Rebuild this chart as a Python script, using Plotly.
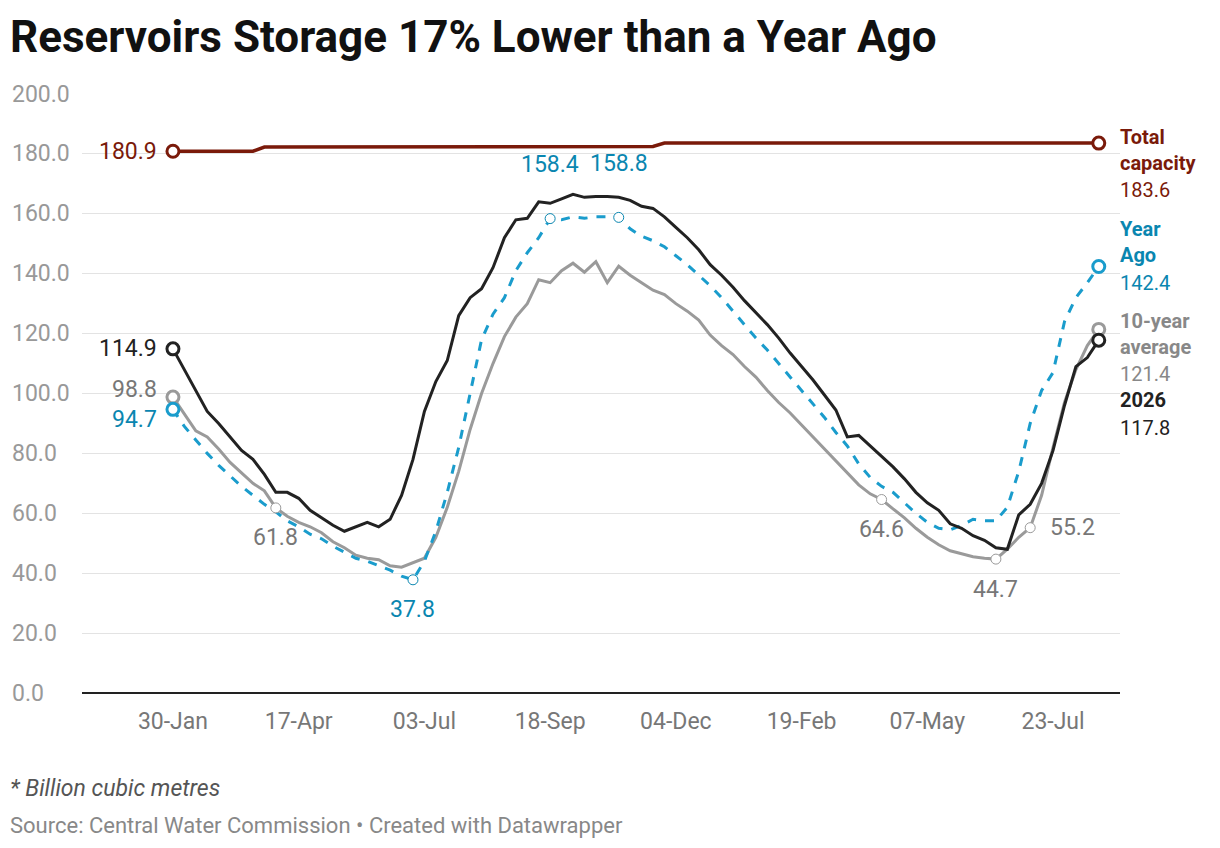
import plotly.graph_objects as go
import pandas as pd

start = pd.Timestamp("2025-01-30")
weeks = list(range(82))
dates = [start + pd.Timedelta(days=7*w) for w in weeks]
ytick_vals = [0, 20, 40, 60, 80, 100, 120, 140, 160, 180, 200]

current = [114.9,108,101,94,90,85.5,81,78,73,67,67,65,61,58.5,56,54,55.5,57,55.5,58,66,78,94,104,111,126,132,135,142,152,158,158.5,164,163.5,165,166.5,165.5,165.8,165.8,165.5,164.5,162.5,161.8,159,155.5,152,148,143,139.5,135.5,131,127,123,118.5,113.5,109,104.5,99.5,94.5,85.5,86,82.5,79,75.5,71.5,67,63.5,61,56.5,55,52.5,51,48.5,48,59.5,63,70,81,96,109,112,117.8]
avg10 = [98.8,93,87.5,85.5,81.5,77,73.5,70,67.5,61.8,59,57,55.5,53.5,50.5,48.5,46,45,44.5,42.5,42,43.5,45,52,62,74,88,100,110,119,125.5,130,138,137,141,143.5,140.5,144,137,142.5,139.5,137,134.5,133,130,127.5,124.5,119.5,116,113,109,105.5,101,97,93.5,89.5,85.5,81.5,77.5,73.5,69.5,66.5,64.6,61.5,58.5,55,52,49.5,47.5,46.5,45.5,45,44.7,48,52,55.2,66,82,97,108,116,121.4]
yearago = [94.7,89,84.5,80,76,72.5,69,66,63,60.5,57.5,55.5,53,51.5,49,47,45,44,42.5,41,39,37.8,44,54,67,82,100,118,126.5,132,141,147,152,158.4,158,159,158.5,159,159,158.8,155,152.5,151,149,146,143,139.5,136,132,127.5,123,118.5,114.5,110,105.5,101,96.5,92,87,82.5,76.5,72,69,67,63.5,60,57,55,54.5,56,58,57.5,57.5,62,74,90,101,107,124,132,137,142.4]
capacity = [180.9]*8 + [182.3]*15 + [182.5]*20 + [183.6]*39

RED = "#7a1a0a"; BLUE = "#1a9ccc"; BLUEL = "#0a86b0"; GRAY = "#9a9a9a"; DARK = "#222222"
fig = go.Figure()
fig.add_trace(go.Scatter(x=dates, y=capacity, mode="lines", line=dict(color=RED, width=3.5)))
fig.add_trace(go.Scatter(x=dates, y=avg10, mode="lines", line=dict(color=GRAY, width=3)))
fig.add_trace(go.Scatter(x=dates, y=yearago, mode="lines", line=dict(color=BLUE, width=3, dash="dash")))
fig.add_trace(go.Scatter(x=dates, y=current, mode="lines", line=dict(color=DARK, width=3)))

def marker(idx, series, color, size=12, w=3):
    fig.add_trace(go.Scatter(x=[dates[i] for i in idx], y=[series[i] for i in idx], mode="markers",
        marker=dict(size=size, color="white", line=dict(color=color, width=w))))
marker([0, 81], capacity, RED)
marker([0, 81], avg10, GRAY)
marker([0, 81], yearago, BLUE)
marker([0, 81], current, DARK)
marker([9, 62, 72, 75], avg10, GRAY, 10, 1)
marker([21, 33, 39], yearago, BLUEL, 10, 1)

FS = 23
ann = []
def lab(i, y, text, color, ax=0, ay=0, xanchor="center"):
    ann.append(dict(x=dates[i], y=y, text=text, showarrow=False,
        xshift=ax, yshift=ay, xanchor=xanchor, yanchor="middle", font=dict(color=color, size=FS)))
lab(0, 180.9, "180.9", RED, -14, 0, "right")
lab(0, 114.9, "114.9", DARK, -14, 0, "right")
lab(0, 98.8, "98.8", "#777777", -14, 8, "right")
lab(0, 94.7, "94.7", BLUEL, -14, -10, "right")
lab(9, 61.8, "61.8", "#777777", 0, -30)
lab(21, 37.8, "37.8", BLUEL, 0, -30)
lab(33, 158.4, "158.4", BLUEL, 0, 54)
lab(39, 158.8, "158.8", BLUEL, 0, 54)
lab(62, 64.6, "64.6", "#777777", 0, -30)
lab(72, 44.7, "44.7", "#777777", 0, -30)
lab(75, 55.2, "55.2", "#777777", 18, 0, "left")

for v in ytick_vals:
    ann.append(dict(xref="paper", yref="y", x=(10-82)/1038, y=v, text=f"{v:.1f}", showarrow=False,
        xanchor="left", yanchor="middle", font=dict(color="#999", size=FS)))

def rlab(ypx, text, color, bold):
    ann.append(dict(xref="paper", yref="paper", x=(1118-82)/1038, y=(693-ypx)/599, text=f"<b>{text}</b>" if bold else text,
        showarrow=False, xanchor="left", yanchor="middle", align="left", font=dict(color=color, size=20)))
rlab(150, "Total<br>capacity", RED, True); rlab(190, "183.6", RED, False)
rlab(242, "Year<br>Ago", BLUEL, True); rlab(283, "142.4", BLUEL, False)
rlab(334, "10-year<br>average", "#888888", True); rlab(374, "121.4", "#888888", False)
rlab(400, "2026", DARK, True); rlab(428, "117.8", DARK, False)
def plab(ypx, text, color, size):
    ann.append(dict(xref="paper", yref="paper", x=(8-82)/1038, y=(693-ypx)/599, text=text,
        showarrow=False, xanchor="left", yanchor="middle", font=dict(color=color, size=size)))
plab(788, "<i>* Billion cubic metres</i>", "#555", 23)
plab(825, "Source: Central Water Commission • Created with Datawrapper", "#888", 22)
plab(37, "<b>Reservoirs Storage 17% Lower than a Year Ago</b>", "#111", 44)

fig.update_layout(width=1220, height=848, margin=dict(l=82, r=100, t=94, b=155), plot_bgcolor="white", paper_bgcolor="white",
    showlegend=False, annotations=ann, font=dict(family="Roboto"),
    xaxis=dict(range=[start - pd.Timedelta(days=55.7), start + pd.Timedelta(days=580)],
        tickvals=[start + pd.Timedelta(days=77*k) for k in range(8)], tickformat="%d-%b",
        showgrid=False, ticks="outside", ticklen=7, tickcolor="rgba(0,0,0,0)",
        tickfont=dict(size=FS, color="#777"), showline=False, zeroline=False),
    yaxis=dict(range=[0, 200], tickvals=ytick_vals, showticklabels=False, gridcolor="#e3e3e3",
        zeroline=True, zerolinecolor="#222", zerolinewidth=1.5, ticks="", showline=False))
fig.write_html("out.html", post_script="document.body.style.margin='0';", config={"displayModeBar": False})
